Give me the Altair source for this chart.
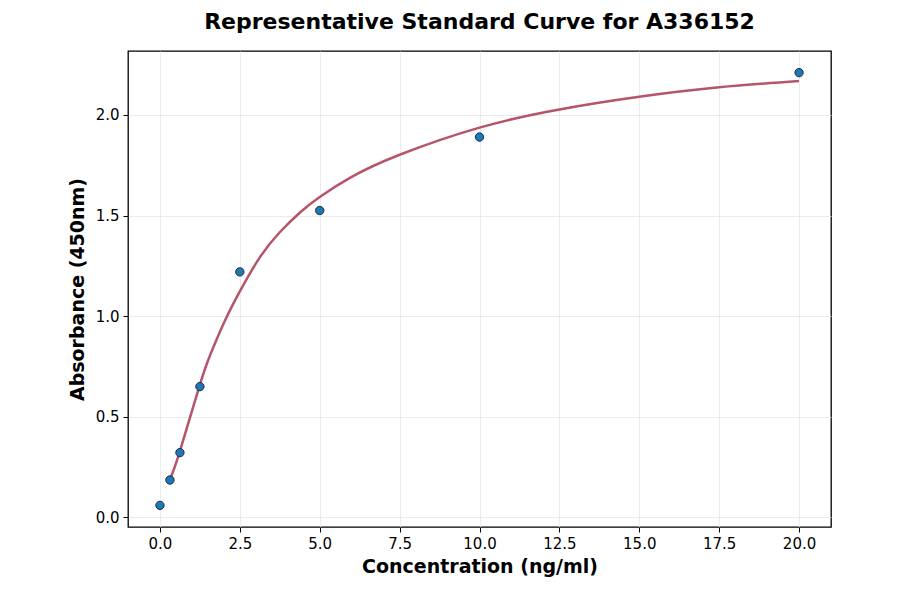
import pandas as pd
import altair as alt

# measured standards
conc = [0.0, 0.3125, 0.625, 1.25, 2.5, 5.0, 10.0, 20.0]
absorb = [0.06, 0.186, 0.322, 0.65, 1.22, 1.525, 1.89, 2.21]

# fitted curve
curve_x = [0.3125, 0.625, 1.25, 1.6, 2.0, 2.5, 3.125, 3.75, 4.375, 5.0, 6.0, 7.5, 10.0, 12.5, 15.0, 17.5, 20.0]
curve_y = [0.189, 0.33, 0.66, 0.818, 0.966, 1.123, 1.292, 1.417, 1.514, 1.592, 1.692, 1.802, 1.937, 2.027, 2.09, 2.137, 2.168]

x_ticks = [0.0, 2.5, 5.0, 7.5, 10.0, 12.5, 15.0, 17.5, 20.0]
y_ticks = [0.0, 0.5, 1.0, 1.5, 2.0]

pts = pd.DataFrame({"conc": conc, "abs": absorb})
fit = pd.DataFrame({"conc": curve_x, "abs": curve_y})

xs = alt.Scale(domain=[-1, 21], nice=False, zero=False)
ys = alt.Scale(domain=[-0.0475, 2.3175], nice=False, zero=False)

x_ax = alt.Axis(values=x_ticks, format=".1f", title="Concentration (ng/ml)")
y_ax = alt.Axis(values=y_ticks, format=".1f", title="Absorbance (450nm)")

line = alt.Chart(fit).mark_line(color="#b5546a", strokeWidth=2.5, interpolate="natural").encode(
    x=alt.X("conc:Q", scale=xs, axis=x_ax),
    y=alt.Y("abs:Q", scale=ys, axis=y_ax)
)

dots = alt.Chart(pts).mark_point(
    filled=True, fill="#1f77b4", stroke="#1a2b45", strokeWidth=1, size=70, opacity=1
).encode(
    x=alt.X("conc:Q", scale=xs),
    y=alt.Y("abs:Q", scale=ys)
)

chart = (line + dots).properties(
    width=703,
    height=476,
    autosize=alt.AutoSizeParams(type="none"),
    padding={"left": 120, "top": 43, "right": 61, "bottom": 59},
    title=alt.TitleParams(
        "Representative Standard Curve for A336152",
        font="DejaVu Sans", fontSize=22, fontWeight="bold", color="black",
        anchor="middle", offset=17
    )
).configure_view(
    stroke="black", strokeWidth=1.3
).configure_axis(
    domain=False,
    grid=True, gridColor="#e6e6e6", gridWidth=0.8,
    ticks=True, tickSize=5, tickColor="black", tickWidth=1,
    labelFont="DejaVu Sans", labelFontSize=15, labelColor="black", labelPadding=4,
    titleFont="DejaVu Sans", titleFontSize=19, titleFontWeight="bold", titleColor="black"
).configure_axisX(
    titlePadding=6
).configure_axisY(
    titlePadding=8
)

chart.save("out.html", embed_options={"renderer": "svg", "actions": False})
